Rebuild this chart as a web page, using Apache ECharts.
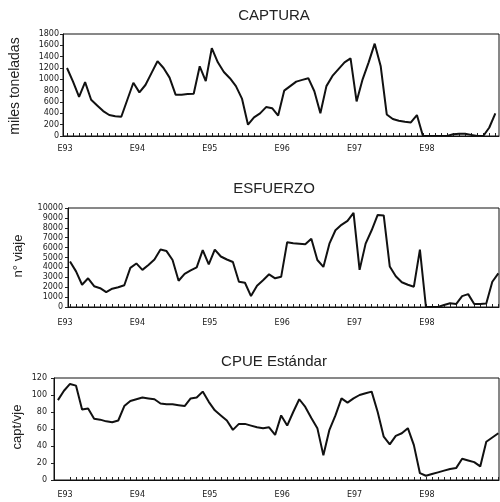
<!DOCTYPE html>
<html><head><meta charset="utf-8">
<script src="https://cdn.jsdelivr.net/npm/echarts@6/dist/echarts.min.js"></script>
<style>html,body{margin:0;padding:0;background:#fff}#c{width:500px;height:502px}</style>
</head><body><div id="c"></div>
<script>
// Month index 0 = January 1993
const yearLabels = ['E93','E94','E95','E96','E97','E98'];
const yearStartMonth = [0, 12, 24, 36, 48, 60];

const capturaStart = 0;
const captura = [1200, 960, 690, 950, 640, 540, 440, 370, 350, 340,
  640, 940, 770, 900, 1110, 1320, 1200, 1030, 730, 730,
  740, 745, 1230, 970, 1550, 1300, 1130, 1020, 880, 660,
  200, 330, 400, 510, 490, 360, 800, 880, 960, 990,
  1020, 790, 400, 880, 1060, 1180, 1300, 1370, 610, 1000,
  1300, 1630, 1230, 380, 300, 270, 250, 240, 370, 0,
  0, 0, 0, 0, 30, 40, 40, 20, 0, 0, 150, 400];

const esfuerzoStart = 0;
const esfuerzo = [4600, 3600, 2250, 2900, 2100, 1900, 1500, 1850, 2000, 2200,
  3950, 4400, 3750, 4250, 4800, 5800, 5650, 4750, 2650, 3350,
  3700, 4000, 5750, 4300, 5800, 5100, 4800, 4550, 2550, 2450,
  1100, 2150, 2700, 3300, 2900, 3050, 6550, 6450, 6400, 6350,
  6900, 4750, 4050, 6400, 7750, 8300, 8700, 9500, 3750, 6400,
  7750, 9300, 9250, 4100, 3100, 2500, 2250, 2050, 5800, 0,
  0, 0, 200, 370, 300, 1100, 1300, 300, 300, 350, 2550, 3400];

const cpueStart = -2;
const cpue = [94, 105,
  113, 111, 83, 84, 72, 71, 69, 68, 70, 87,
  93, 95, 97, 96, 95, 90, 89, 89, 88, 87,
  96, 97, 104, 92, 82, 76, 70, 59, 66, 66,
  64, 62, 61, 62, 53, 76, 64, 80, 95, 86,
  73, 61, 29, 59, 76, 96, 91, 96, 100, 102,
  104, 80, 51, 42, 52, 55, 61, 41, 8, 5,
  7, 9, 11, 13, 14, 25, 23, 21, 16, 45,
  50, 55];

const titles = ['CAPTURA', 'ESFUERZO', 'CPUE Estándar'];
const yNames = ['miles toneladas', 'n° viaje', 'capt/vje'];
const yMax = [1800, 10000, 120];
const yStep = [200, 1000, 20];
const seriesList = [
  {start: capturaStart, values: captura},
  {start: esfuerzoStart, values: esfuerzo},
  {start: cpueStart, values: cpue}
];
const monthTicks = [];
for (let m = 0; m <= 71; m++) monthTicks.push(m);

// layout (pixels)
const PX = 6.033;
const RIGHT = 499;
const layout = [
  {left: 63, top: 34, bottom: 136, x0: 67, titleY: 16, nameX: 15, nameY: 86, nameSize: 14, yMargin: 4, xMargin: 9},
  {left: 68, top: 208, bottom: 307, x0: 70, titleY: 189, nameX: 18, nameY: 256, nameSize: 13, yMargin: 5, xMargin: 12},
  {left: 54, top: 378, bottom: 480, x0: 70, titleY: 362, nameX: 17, nameY: 427, nameSize: 13, yMargin: 7, xMargin: 11}
];
const LABEL_X = 65;

const grids = [], xAxes = [], yAxes = [], series = [], graphics = [];
layout.forEach((L, i) => {
  grids.push({left: L.left, top: L.top, width: RIGHT - L.left, height: L.bottom - L.top,
    show: true, borderColor: '#111', borderWidth: 1, backgroundColor: 'transparent'});
  const shift = Math.max(0, L.x0 - LABEL_X);
  xAxes.push({
    type: 'value', gridIndex: i,
    min: (L.left - L.x0) / PX, max: (RIGHT - L.x0) / PX,
    splitLine: {show: false},
    axisLine: {show: true, onZero: false, lineStyle: {color: '#111', width: 1}},
    axisTick: {show: true, inside: true, length: 3, customValues: monthTicks, lineStyle: {color: '#222', width: 1}},
    axisLabel: {
      customValues: yearStartMonth, margin: L.xMargin,
      padding: [0, shift * 2, 0, 0],
      fontFamily: 'DejaVu Sans', fontSize: 8, color: '#1a1a1a',
      formatter: function (v) {
        const j = yearStartMonth.indexOf(Math.round(v));
        return j >= 0 ? yearLabels[j] : '';
      }
    }
  });
  yAxes.push({
    type: 'value', gridIndex: i, min: 0, max: yMax[i], interval: yStep[i],
    splitLine: {show: false},
    axisLine: {show: true, onZero: false, lineStyle: {color: '#111', width: 1}},
    axisTick: {show: true, inside: false, length: 3, lineStyle: {color: '#222'}},
    axisLabel: {margin: L.yMargin, fontFamily: 'DejaVu Sans', fontSize: 8, color: '#1a1a1a',
      formatter: v => String(v)}
  });
  const s = seriesList[i];
  series.push({
    type: 'line', xAxisIndex: i, yAxisIndex: i, showSymbol: false, silent: true,
    lineStyle: {color: '#111', width: 2}, clip: true,
    data: s.values.map((v, j) => [s.start + j, v])
  });
  graphics.push({type: 'text', x: 274, y: L.titleY,
    style: {text: titles[i], textAlign: 'center', textVerticalAlign: 'middle',
      font: '15px "Liberation Sans", Arial, sans-serif', fill: '#222'}});
  graphics.push({type: 'text', x: L.nameX, y: L.nameY, rotation: Math.PI / 2,
    style: {text: yNames[i], textAlign: 'center', textVerticalAlign: 'middle',
      font: L.nameSize + 'px "Liberation Sans", Arial, sans-serif', fill: '#222'}});
});

const chart = echarts.init(document.getElementById('c'), null, {renderer: 'canvas'});
chart.setOption({
  animation: false,
  backgroundColor: '#fff',
  grid: grids, xAxis: xAxes, yAxis: yAxes, series: series,
  graphic: graphics
});
</script></body></html>
